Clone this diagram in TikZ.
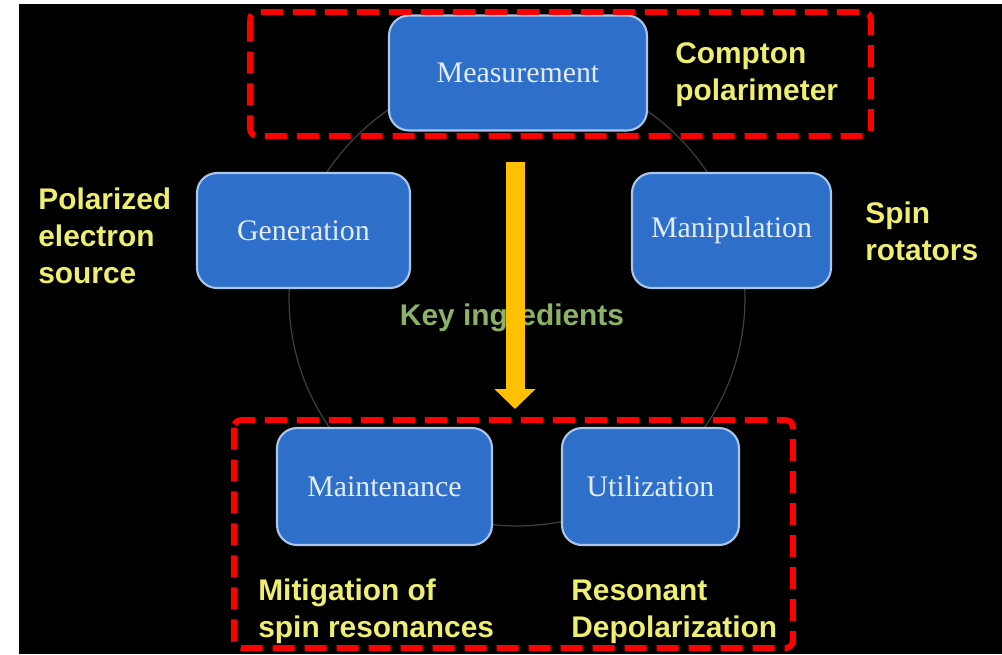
\documentclass[tikz,border=0pt]{standalone}
\usepackage{fontspec}
\setmainfont{Liberation Serif}
\setsansfont{Liberation Sans}
\usetikzlibrary{arrows.meta}

\definecolor{azulcaja}{RGB}{46,112,201}
\definecolor{bordecaja}{RGB}{170,198,235}
\definecolor{textocaja}{RGB}{226,236,250}
\definecolor{amarillo}{RGB}{238,238,112}
\definecolor{verdeclave}{RGB}{139,178,103}
\definecolor{naranja}{RGB}{255,192,0}
\definecolor{rojo}{RGB}{255,0,0}
\definecolor{grisanillo}{RGB}{62,62,66}

\tikzset{
  etapa/.style={draw=bordecaja, line width=1.2pt, fill=azulcaja, rounded corners=0.4cm,
    text=textocaja, font=\fontsize{17}{20}\selectfont, inner sep=0pt},
  nota/.style={text=amarillo, font=\sffamily\bfseries\fontsize{17}{21}\selectfont,
    align=left, anchor=base west, inner sep=0pt},
  marco/.style={draw=rojo, line width=3.4pt, dash pattern=on 0.44cm off 0.2cm,
    rounded corners=0.15cm},
  flecha/.style={draw=naranja, line width=0.38cm, -{Triangle[length=0.4cm, width=0.8cm]}},
}

\begin{document}
\begin{tikzpicture}[x=0.02cm, y=-0.02cm]
    \useasboundingbox (0,0) rectangle (1002,654);
    \fill[black] (19,4) rectangle (1002,654);

    % Anillo que une las cinco etapas.
    \coordinate (centro) at (517,298);
    \draw[grisanillo, line width=0.7pt] (centro) circle[radius=4.56cm];

    % Las cinco etapas.
    \node[etapa, minimum width=5.16cm, minimum height=2.3cm] (medicion) at (518,73) {Measurement};
    \node[etapa, minimum width=4.26cm, minimum height=2.3cm] (generacion) at (303.5,230.5) {Generation};
    \node[etapa, minimum width=3.98cm, minimum height=2.3cm] (manipulacion) at (731.5,230.5) {Manipulation};
    \node[etapa, minimum width=4.3cm, minimum height=2.34cm] (mantenimiento) at (384.5,486.5) {Maintenance};
    \node[etapa, minimum width=3.54cm, minimum height=2.34cm] (utilizacion) at (650.5,486.5) {Utilization};

    \node[anchor=base, inner sep=0pt, text=verdeclave, font=\sffamily\bfseries\fontsize{17}{21}\selectfont]
        (clave) at (512,325) {Key ingredients};

    % Flecha de arriba hacia abajo.
    \coordinate (flecha-ini) at (515,162);
    \coordinate (flecha-fin) at (515,409);
    \draw[flecha] (flecha-ini) -- (flecha-fin);

    % Marcos rojos.
    \draw[marco] (250,12) rectangle (871,136);
    \draw[marco] (234,420) rectangle (793,648);

    % Notas amarillas (el ancla base queda en la última línea).
    \node[nota] (compton) at (675,100) {Compton\\polarimeter};
    \node[nota] (fuente) at (38,283) {Polarized\\electron\\source};
    \node[nota] (rotadores) at (865,260) {Spin\\rotators};
    \node[nota] (mitigacion) at (258,637) {Mitigation of\\spin resonances};
    \node[nota] (despolarizacion) at (571,637) {Resonant\\Depolarization};
\end{tikzpicture}
\end{document}
